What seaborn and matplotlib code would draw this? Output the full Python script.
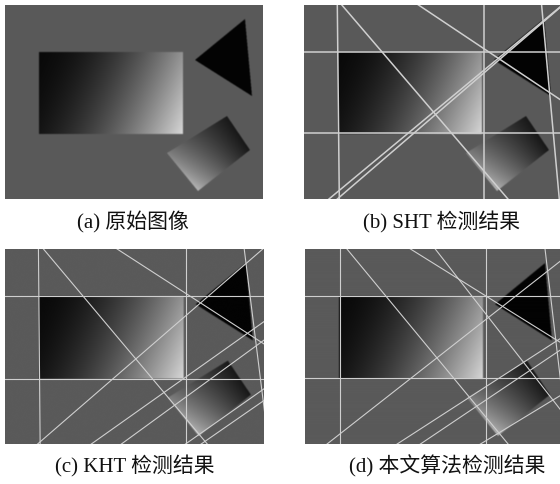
import numpy as np
import pandas as pd
import matplotlib
matplotlib.use("Agg")
import matplotlib.pyplot as plt
from matplotlib.path import Path
import seaborn as sns

# ---------------- data (image coordinates, pixels) ----------------
W, H = 258, 194
bg_level = 90
line_level = "#cfcfcf"

rect_box = [34, 47, 178, 129]          # x0, y0, x1, y1
tri_x = [190, 240, 247]
tri_y = [55, 14, 91]
sq_x = [162, 222, 245, 193]            # left, top, right, bottom corners
sq_y = [148, 111, 145, 186]
sq_corner_levels = [130, 25, 15, 185]  # grey level at left, top, right, bottom

captions = ["(a) 原始图像", "(b) SHT 检测结果", "(c) KHT 检测结果", "(d) 本文算法检测结果"]

# detected lines: (x0, y0, x1, y1) two points on each line
lines_a = []
lines_b = [
    (0, 46.7, 258, 46.7), (0, 128, 258, 128),
    (33.3, 0, 35.3, 194), (180, 0, 180, 194),
    (39.3, 1.7, 197.7, 186.7), (116, 1, 249.3, 90),
    (27.7, 191.7, 256, 2), (36, 191.7, 245, 12),
    (237.7, 1, 255.3, 194),
]
lines_c = [
    (0, 46.3, 258, 46.3), (0, 129, 258, 129),
    (33.3, 0, 35, 194), (180, 0, 180, 194),
    (38.3, 0, 195, 186.3), (111.7, 0, 248, 88),
    (31.7, 194.7, 258.3, -1.3), (238.3, 0, 258.3, 160),
    (85, 194.7, 259.3, 71.3), (115, 194.7, 259.3, 89.7),
    (181.7, 192.7, 260, 137.7), (195, 194.3, 260, 149.3),
]
lines_d = [
    (0, 46.3, 258, 46.3), (0, 128, 258, 128),
    (35, 0, 35, 194), (180.7, 0, 180.7, 194),
    (41.7, -0.3, 196.7, 186.3), (105, -0.3, 255, 92.7),
    (130, -0.3, 255, 159.3), (21.7, 194.3, 255, 12.3),
    (240, -0.3, 255, 126.3),
    (91.7, 194.3, 255, 89.3), (115, 194.3, 255, 100.7),
    (175, 194.3, 255, 146),
]
panel_lines = [lines_a, lines_b, lines_c, lines_d]
line_widths = [1.0, 1.1, 0.8, 0.8]

# panel positions in figure pixels: left, top, right, bottom
panel_px = [(5, 5, 263, 199), (304, 5, 562, 199), (5, 249, 264, 444), (305, 249, 563, 444)]
caption_px = [(133, 222), (442, 222), (135, 466), (447, 466)]

FW, FH = 560, 484

# ---------------- build scene image ----------------
s = 3
yy, xx = np.mgrid[0:H * s, 0:W * s].astype(float)
xx = (xx + 0.5) / s
yy = (yy + 0.5) / s
img = np.full(xx.shape, bg_level / 255.0)

x0, y0, x1, y1 = rect_box
m = (xx >= x0) & (xx <= x1) & (yy >= y0) & (yy <= y1)
u = (xx - x0) / (x1 - x0)
v = (yy - y0) / (y1 - y0)
t = np.clip(0.8 * u + 0.2 * v, 0, 1)
img[m] = ((10 + 205 * t ** 1.8) / 255.0)[m]

pts = np.column_stack([xx.ravel(), yy.ravel()])
tri = Path(np.column_stack([tri_x, tri_y]))
mt = tri.contains_points(pts).reshape(xx.shape)
img[mt] = 3 / 255.0

sq = Path(np.column_stack([sq_x, sq_y]))
ms = sq.contains_points(pts).reshape(xx.shape)
L = np.array([sq_x[0], sq_y[0]])
e1 = np.array([sq_x[1], sq_y[1]]) - L
e2 = np.array([sq_x[3], sq_y[3]]) - L
M = np.linalg.inv(np.column_stack([e1, e2]))
dx = xx - L[0]
dy = yy - L[1]
sv = np.clip(M[0, 0] * dx + M[0, 1] * dy, 0, 1) ** 0.8
rv = np.clip(M[1, 0] * dx + M[1, 1] * dy, 0, 1)
cl, ct, cr, cb = sq_corner_levels
sq_val = ((1 - sv) * (cl + (cb - cl) * rv) + sv * (ct + (cr - ct) * rv)) / 255.0
img[ms] = np.clip(sq_val, 0, 1)[ms]

# slight blur for soft edges
k = 2
acc = np.zeros_like(img)
cnt = 0
pad = np.pad(img, k, mode="edge")
for i in range(-k, k + 1):
    for j in range(-k, k + 1):
        acc += pad[k + i:k + i + img.shape[0], k + j:k + j + img.shape[1]]
        cnt += 1
img = acc / cnt

# ---------------- draw ----------------
sns.set_theme(style="white")
plt.rcParams["font.family"] = ["Liberation Serif", "Noto Sans CJK SC", "DejaVu Sans"]

fig = plt.figure(figsize=(FW / 100, FH / 100), dpi=100)
fig.patch.set_facecolor("white")

for idx, (lft, top, rgt, bot) in enumerate(panel_px):
    ax = fig.add_axes([lft / FW, 1 - bot / FH, (rgt - lft) / FW, (bot - top) / FH])
    ax.imshow(img, cmap="gray", vmin=0, vmax=1, extent=(0, W, H, 0),
              interpolation="antialiased", aspect="auto")
    lines = panel_lines[idx]
    if lines:
        rows = []
        for lid, (ax0, ay0, ax1, ay1) in enumerate(lines):
            for tt in (-3.0, 4.0):
                rows.append({"id": lid, "x": ax0 + tt * (ax1 - ax0), "y": ay0 + tt * (ay1 - ay0)})
        df = pd.DataFrame(rows)
        sns.lineplot(data=df, x="x", y="y", units="id", estimator=None, sort=False,
                     color=line_level, lw=line_widths[idx], ax=ax, legend=False)
    ax.set_xlim(0, W)
    ax.set_ylim(H, 0)
    ax.set_axis_off()

for (cx, cy), cap in zip(caption_px, captions):
    fig.text(cx / FW, 1 - cy / FH, cap, ha="center", va="center", fontsize=15,
             family=["Liberation Serif", "Noto Sans CJK SC"], color="#111111")

fig.savefig("out.png", dpi=100, facecolor="white")
